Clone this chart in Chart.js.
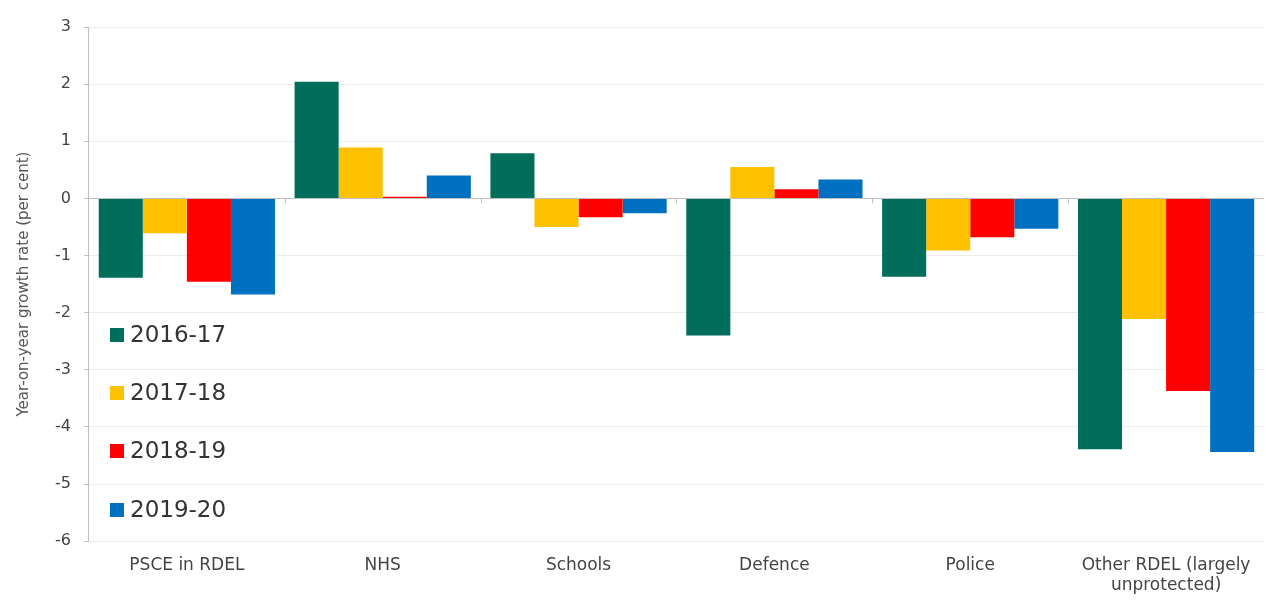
<!DOCTYPE html>
<html><head><meta charset="utf-8">
<script src="https://cdn.jsdelivr.net/npm/chart.js@4"></script>
<style>html,body{margin:0;padding:0;background:#fff}#wrap{width:1266px;height:601px;position:relative}</style>
</head><body><div id="wrap"><canvas id="c" width="1266" height="601"></canvas></div>
<script>
const categories = ['PSCE in RDEL','NHS','Schools','Defence','Police',['Other RDEL (largely','unprotected)']];
const seriesNames = ['2016-17','2017-18','2018-19','2019-20'];
const s2016 = [-1.39, 2.04, 0.79, -2.40, -1.37, -4.39];
const s2017 = [-0.61, 0.89, -0.50, 0.55, -0.91, -2.11];
const s2018 = [-1.46, 0.03, -0.33, 0.16, -0.68, -3.37];
const s2019 = [-1.68, 0.40, -0.26, 0.33, -0.53, -4.44];
const yTicks = [3,2,1,0,-1,-2,-3,-4,-5,-6];
const colors = ['#006E5A','#FFC000','#FF0000','#0070C0'];
const FONT = '"DejaVu Sans", sans-serif';

const zeroTicks = {
  id:'zeroTicks',
  afterDatasetsDraw(chart){
    const {ctx, scales:{x,y}} = chart;
    const y0 = y.getPixelForValue(0);
    ctx.save();
    ctx.strokeStyle = '#bfbfbf'; ctx.lineWidth = 1;
    const n = categories.length;
    const w = (x.right - x.left)/n;
    for(let i=1;i<n;i++){
      const px = Math.round(x.left + i*w)+0.5;
      ctx.beginPath(); ctx.moveTo(px,y0); ctx.lineTo(px,y0+5); ctx.stroke();
    }
    ctx.restore();
  }
};
const insideLegend = {
  id:'insideLegend',
  afterDraw(chart){
    const {ctx} = chart;
    ctx.save();
    ctx.font = '23px ' + FONT;
    ctx.textBaseline = 'middle';
    const rows = [335,393,451,510];
    seriesNames.forEach((n,i)=>{
      ctx.fillStyle = colors[i];
      ctx.fillRect(110, rows[i]-7, 14, 14);
      ctx.fillStyle = '#333';
      ctx.fillText(n, 130, rows[i]+1);
    });
    ctx.restore();
  }
};

new Chart(document.getElementById('c'), {
  type:'bar',
  data:{
    labels: categories,
    datasets: [s2016,s2017,s2018,s2019].map((d,i)=>({
      label: seriesNames[i], data: d, backgroundColor: colors[i],
      barPercentage: 1.0, categoryPercentage: 0.9, borderWidth: 0
    }))
  },
  options:{
    responsive:false, animation:false,
    layout:{padding:{top:27,right:2,bottom:-9,left:15}},
    plugins:{legend:{display:false}, tooltip:{enabled:false}},
    scales:{
      x:{
        grid:{display:false, drawTicks:false},
        border:{display:false},
        ticks:{color:'#444', font:{family:FONT,size:17}, padding:14, maxRotation:0, autoSkip:false}
      },
      y:{
        min:-6, max:3,
        afterBuildTicks(scale){ scale.ticks = yTicks.map(v=>({value:v})); },
        grid:{color:(c)=> c.tick && c.tick.value===0 ? '#bfbfbf' : '#ececec', tickLength:5, tickColor:'#bfbfbf'},
        border:{display:true, color:'#bfbfbf'},
        ticks:{color:'#444', font:{family:FONT,size:16}, padding:13},
        title:{display:true, text:'Year-on-year growth rate (per cent)', color:'#555', font:{family:FONT,size:15}, padding:{top:0,bottom:9}}
      }
    }
  },
  plugins:[zeroTicks, insideLegend]
});
</script></body></html>
